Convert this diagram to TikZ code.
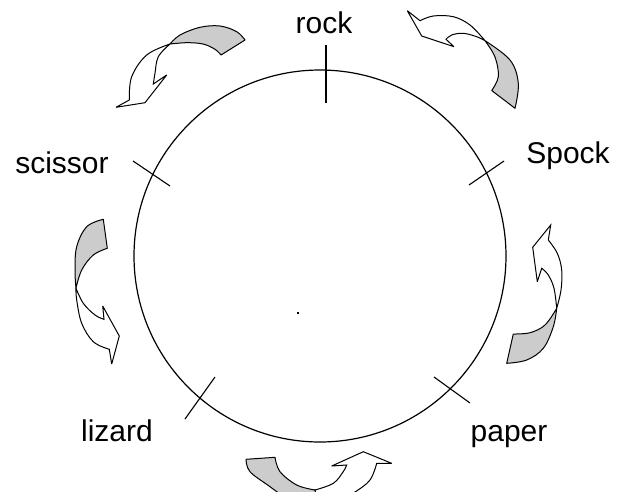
\documentclass[tikz,border=0pt]{standalone}
\usepackage{fontspec}
\setmainfont{Liberation Sans}
\definecolor{ribbongray}{gray}{0.8}
\begin{document}
\begin{tikzpicture}[x=1pt,y=-1pt,
  lab/.style={font=\fontsize{30}{36}\selectfont, anchor=base, inner sep=0pt},
  backside/.style={fill=ribbongray, draw=black, line width=1pt, line join=round},
  frontside/.style={fill=white, draw=black, line width=1pt, line join=miter, miter limit=4},
  ticklinestyle/.style={line width=1.1pt},
  ringline/.style={line width=1.2pt}]
\useasboundingbox (0,0) rectangle (624,491);
\clip (0,0) rectangle (624,491);

% circle
\coordinate (C) at (320,256);
\draw[ringline] (C) circle[radius=186pt];
\fill (297,312) rectangle (299,314);

% ticks
\coordinate (rockA) at (326,45);  \coordinate (rockB) at (326,103);
\coordinate (spockA) at (504,161); \coordinate (spockB) at (469,185);
\coordinate (scisA) at (133,161); \coordinate (scisB) at (170,186);
\coordinate (lizA) at (215,377); \coordinate (lizB) at (185,419);
\coordinate (papA) at (434,377); \coordinate (papB) at (470,403);
\draw[ticklinestyle] (rockA) -- (rockB);
\draw[ticklinestyle] (spockA) -- (spockB);
\draw[ticklinestyle] (scisA) -- (scisB);
\draw[ticklinestyle] (lizA) -- (lizB);
\draw[ticklinestyle] (papA) -- (papB);

% labels
\node[lab] (rock) at (324,33) {rock};
\node[lab] (spock) at (568,163) {Spock};
\node[lab] (scissor) at (62,173) {scissor};
\node[lab] (lizard) at (117,441) {lizard};
\node[lab] (paper) at (509,441) {paper};

% top-left arrow (rock -> scissor)
\filldraw[backside] plot[smooth,tension=.6] coordinates {(170,44) (180,35) (200,27.3) (220,26) (236.7,31.7) (245,40)}
  -- (221,55) -- plot[smooth,tension=.6] coordinates {(221,55) (215,49.3) (203,44) (186.7,42.7) (170,44)} -- cycle;
\filldraw[frontside] plot[smooth,tension=.6] coordinates {(170,44) (158.3,56.7) (155,73.3) (153.3,84)}
  -- (166.7,75) -- (145,102.7) -- (116,107.3) -- (129.3,100)
  -- plot[smooth,tension=.6] coordinates {(129.3,100) (131.7,76.7) (146.7,55) (170,44)} -- cycle;

% top-right arrow (Spock -> rock)
\filldraw[backside] plot[smooth,tension=.6] coordinates {(485,40.7) (495,57) (498.3,76.7) (491.7,90.5)}
  -- (515,108.3) -- plot[smooth,tension=.6] coordinates {(515,108.3) (518.3,83.3) (510,60) (485,40.7)} -- cycle;
\filldraw[frontside] plot[smooth,tension=.6] coordinates {(485,40.7) (470,25) (453.3,16.7) (433.3,16) (420,20.7)}
  -- (407.3,10.7) -- (421.7,36) -- (454,46.7) -- (446,39.3)
  -- plot[smooth,tension=.6] coordinates {(446,39.3) (451.7,35) (463.3,33.3) (476.7,36.7) (485,40.7)} -- cycle;

% right arrow (paper -> Spock)
\filldraw[backside] plot[smooth,tension=.6] coordinates {(556.7,308.3) (553.3,326.7) (543.3,348.3) (526.7,360) (506.7,363.3)}
  -- (513.3,334) -- plot[smooth,tension=.6] coordinates {(513.3,334) (530,332.7) (545,325) (556.7,308.3)} -- cycle;
\filldraw[frontside] (550.7,225) -- (548.3,240)
  -- plot[smooth,tension=.6] coordinates {(548.3,240) (557.3,253.3) (561.7,270) (561,290) (556.7,308.3)}
  -- plot[smooth,tension=.6] coordinates {(556.7,308.3) (554,288.3) (548.3,275) (541.7,268.3)}
  -- (537.3,281.7) -- (532.7,247.3) -- cycle;

% bottom arrow (lizard -> paper)
\filldraw[backside] (246,459.3) -- (275,457.3)
  -- plot[smooth,tension=.6] coordinates {(275,457.3) (280,471.7) (296.7,485) (315,490)}
  -- (318,500) -- (288,500)
  -- plot[smooth,tension=.6] coordinates {(288,500) (270,486.7) (250,471.7) (246,459.3)} -- cycle;
\filldraw[frontside] plot[smooth,tension=.6] coordinates {(315,490) (333.3,483.3) (343,472) (346.7,465)}
  -- (331.7,466) -- (363.3,451.7) -- (391.7,463.3) -- (376.7,463.3)
  -- plot[smooth,tension=.6] coordinates {(376.7,463.3) (370,480) (355,492) (340,500)}
  -- (318,500) -- cycle;

% left arrow (scissor -> lizard)
\filldraw[backside] (103.3,219.3)
  -- plot[smooth,tension=.6] coordinates {(103.3,219.3) (86.7,226.7) (76.7,246.7) (75,270) (76,288.3)}
  -- plot[smooth,tension=.6] coordinates {(76,288.3) (81.7,270) (93.3,255) (107.3,248.3)} -- cycle;
\filldraw[frontside] plot[smooth,tension=.6] coordinates {(76,288.3) (83.3,303.3) (95,315) (104,319.3)}
  -- (102.7,306) -- (119.3,336) -- (111.7,364) -- (109.3,349.3)
  -- plot[smooth,tension=.6] coordinates {(109.3,349.3) (93.3,341.7) (81.7,323.3) (76.7,300) (76,288.3)} -- cycle;
\end{tikzpicture}
\end{document}
